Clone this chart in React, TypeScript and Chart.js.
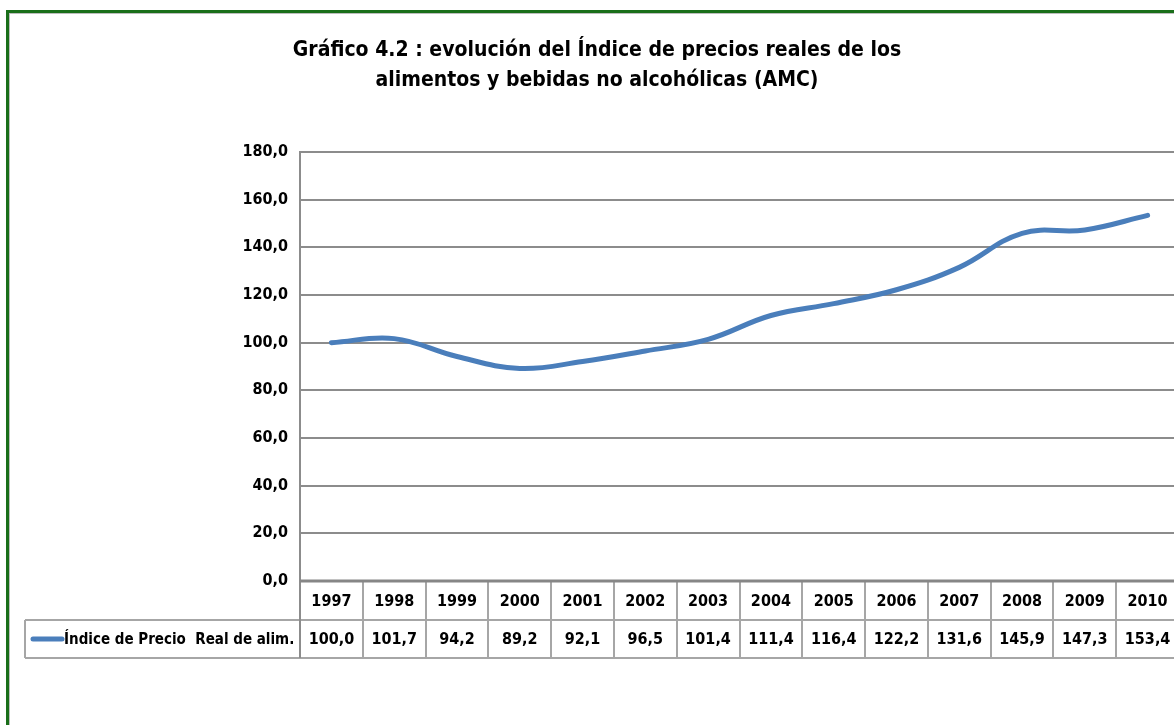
import React, { useEffect, useRef } from "react";
import { Chart, registerables } from "chart.js";

Chart.register(...registerables);

const years = ["1997", "1998", "1999", "2000", "2001", "2002", "2003", "2004", "2005", "2006", "2007", "2008", "2009", "2010"];
const values = [100.0, 101.7, 94.2, 89.2, 92.1, 96.5, 101.4, 111.4, 116.4, 122.2, 131.6, 145.9, 147.3, 153.4];
const seriesName = "Índice de Precio  Real de alim.";
const titleLines = ["Gráfico 4.2 : evolución del Índice de precios reales de los", "alimentos y bebidas no alcohólicas (AMC)"];

const FONT = "'Liberation Sans Narrow', 'Arial Narrow', 'DejaVu Sans Condensed', sans-serif";
const LINE_COLOR = "#4a7ebb";
const GRID = "#8c8c8c";
const TABLE = "#a6a6a6";

const fmt = (v: number) => v.toFixed(1).replace(".", ",");

const tablePlugin = {
  id: "tablePlugin",
  afterDraw(chart: any) {
    const ctx = chart.ctx;
    const xs = chart.scales.x;
    const area = chart.chartArea;
    const n = years.length;
    const rowTop = area.bottom;
    const rowMid = 620;
    const rowBot = 658;
    const legendLeft = 25;
    ctx.save();
    // title
    ctx.fillStyle = "#000";
    ctx.textAlign = "center";
    ctx.textBaseline = "middle";
    ctx.font = `bold 21px ${FONT}`;
    ctx.fillText(titleLines[0], 597, 51);
    ctx.fillText(titleLines[1], 597, 81);

    // table lines
    ctx.strokeStyle = TABLE;
    ctx.lineWidth = 2;
    const edges: number[] = [area.left];
    for (let i = 1; i < n; i++) {
      edges.push((xs.getPixelForValue(i - 1) + xs.getPixelForValue(i)) / 2);
    }
    edges.push(area.right);
    ctx.beginPath();
    for (let i = 1; i < edges.length; i++) {
      ctx.moveTo(Math.round(edges[i]), rowTop);
      ctx.lineTo(Math.round(edges[i]), rowBot);
    }
    ctx.moveTo(legendLeft, rowMid);
    ctx.lineTo(area.right, rowMid);
    ctx.moveTo(legendLeft, rowBot);
    ctx.lineTo(area.right, rowBot);
    ctx.moveTo(legendLeft, rowMid);
    ctx.lineTo(legendLeft, rowBot);
    ctx.stroke();
    ctx.strokeStyle = GRID;
    ctx.beginPath();
    ctx.moveTo(area.left, area.top);
    ctx.lineTo(area.left, rowBot);
    ctx.stroke();
    // axis line
    ctx.lineWidth = 3;
    ctx.strokeStyle = "#868686";
    ctx.beginPath();
    ctx.moveTo(area.left, area.bottom);
    ctx.lineTo(area.right, area.bottom);
    ctx.stroke();

    // labels
    ctx.fillStyle = "#000";
    ctx.font = `bold 16px ${FONT}`;
    for (let i = 0; i < n; i++) {
      const cx = xs.getPixelForValue(i);
      ctx.fillText(years[i], cx, (rowTop + rowMid) / 2 + 1);
      ctx.fillText(fmt(values[i]), cx, (rowMid + rowBot) / 2 + 1);
    }
    // legend
    ctx.strokeStyle = LINE_COLOR;
    ctx.lineWidth = 5;
    ctx.lineCap = "round";
    ctx.beginPath();
    ctx.moveTo(33, (rowMid + rowBot) / 2);
    ctx.lineTo(62, (rowMid + rowBot) / 2);
    ctx.stroke();
    ctx.textAlign = "left";
    ctx.font = `bold 15px ${FONT}`;
    ctx.fillText(seriesName, 64, (rowMid + rowBot) / 2 + 1);
    ctx.restore();
  },
};

export default function App() {
  const ref = useRef<HTMLCanvasElement>(null);
  useEffect(() => {
    if (!ref.current) return;
    const chart = new Chart(ref.current, {
      type: "line",
      data: {
        labels: years,
        datasets: [
          {
            label: seriesName,
            data: values,
            borderColor: LINE_COLOR,
            backgroundColor: LINE_COLOR,
            borderWidth: 5,
            pointRadius: 0,
            tension: 0.4,
            borderCapStyle: "round",
          },
        ],
      },
      options: {
        animation: false,
        responsive: false,
        maintainAspectRatio: false,
        layout: { padding: { top: 152, bottom: 144, left: 0, right: 11 } },
        plugins: { legend: { display: false }, tooltip: { enabled: false }, title: { display: false } },
        scales: {
          x: { display: false, offset: true },
          y: {
            min: 0,
            max: 180,
            afterFit: (s: any) => {
              s.width = 300;
            },
            ticks: {
              stepSize: 20,
              padding: 12,
              color: "#000",
              font: { family: FONT, size: 16, weight: "bold" },
              callback: (v: any) => fmt(Number(v)),
            },
            grid: { color: GRID, lineWidth: 2, drawTicks: false },
            border: { display: true, color: GRID, width: 2 },
          },
        },
      },
      plugins: [tablePlugin],
    });
    return () => chart.destroy();
  }, []);
  return (
    <div style={{ position: "fixed", left: 0, top: 0, width: 1174, height: 725, overflow: "hidden", background: "#fff" }}>
      <canvas ref={ref} width={1190} height={725} style={{ position: "absolute", left: 0, top: 0, width: 1190, height: 725 }} />
      <div
        style={{
          position: "absolute",
          left: 6,
          top: 10,
          width: 1300,
          height: 900,
          border: "3px solid #1a6e1a",
          boxShadow: "inset 1px 1px 0 0 #bdbdbd",
          pointerEvents: "none",
        }}
      />
    </div>
  );
}
